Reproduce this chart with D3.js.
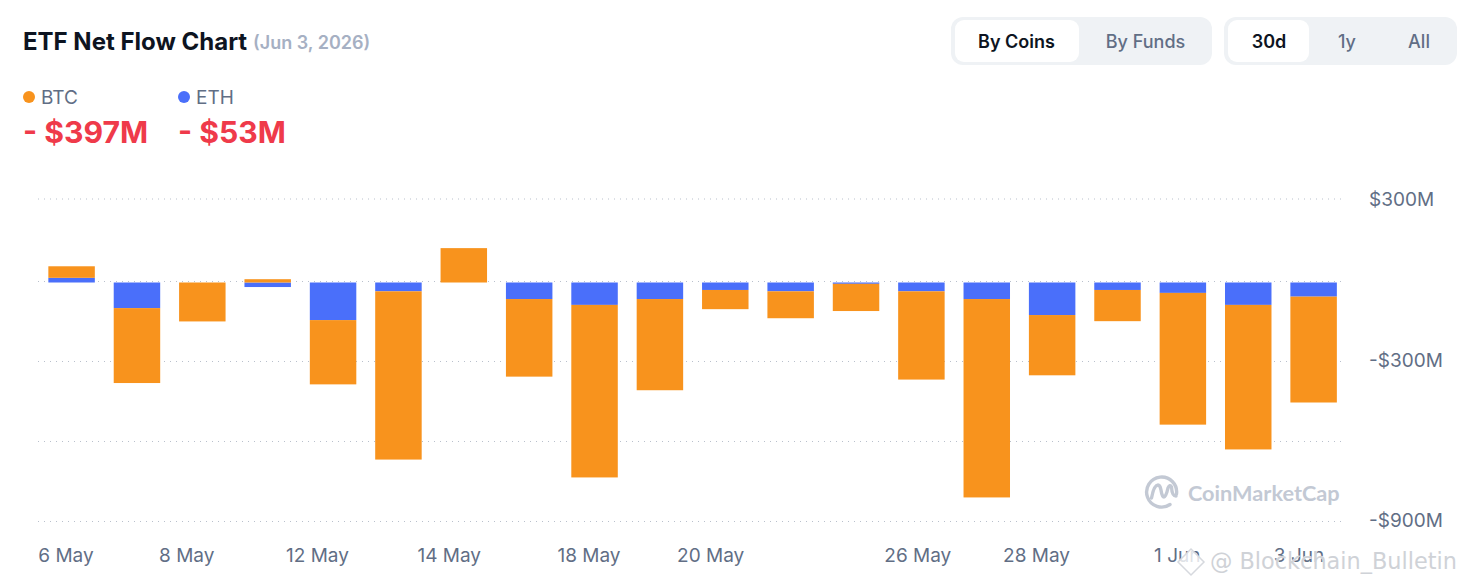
<!DOCTYPE html>
<html><head><meta charset="utf-8">
<script src="https://cdn.jsdelivr.net/npm/d3@7/dist/d3.min.js"></script>
<style>
html,body{margin:0;padding:0;background:#fff;overflow:hidden}
svg{display:block;font-family:Inter,sans-serif}
</style></head><body>
<svg id="c" width="1465" height="585"></svg>
<script>
// ---- data ($M) ----
const dates = ["6 May","7 May","8 May","11 May","12 May","13 May","14 May","15 May","18 May","19 May","20 May","21 May","22 May","26 May","27 May","28 May","29 May","1 Jun","2 Jun","3 Jun"];
const btc = [42,-281,-146,12,-241,-631,125,-291,-647,-342,-72,-101,-102,-331,-744,-226,-117,-494,-542,-397];
const eth = [17,-96,0,-17,-141,-33,0,-62,-84,-62,-28,-33,-5,-33,-62,-122,-28,-39,-84,-53];
const xLabels = ["6 May","8 May","12 May","14 May","18 May","20 May","26 May","28 May","1 Jun","3 Jun"];
const yTicks = [300,0,-300,-600,-900];
const yTickText = ["$300M","","-$300M","","-$900M"];
const seriesNames = ["BTC","ETH"];
const seriesTotals = ["- $397M","- $53M"];

// ---- style ----
const ORANGE="#f8931d", BLUE="#4a6ffa", RED="#ef3a4a", INK="#0d1421", SLATE="#616e85", GRID="#b9c0cc";
const svg=d3.select("#c");
const x=d3.scaleBand().domain(dates).range([38.9,1346.3]).paddingInner(0.289).paddingOuter(0.1445);
const y=d3.scaleLinear().domain([300,0,-300,-600,-900]).range([200,282.5,362.5,442.5,522.5]);

// header
svg.append("text").attr("x",23).attr("y",50).attr("font-size",24).attr("font-weight",700).attr("fill",INK).text("ETF Net Flow Chart");
svg.append("text").attr("x",253).attr("y",49).attr("font-size",18).attr("font-weight",600).attr("fill","#a6b0c3").text("(Jun 3, 2026)");

// toggle groups
function toggle(gx,gw,items){
  svg.append("rect").attr("x",gx).attr("y",17).attr("width",gw).attr("height",48).attr("rx",12).attr("fill","#eff2f5");
  items.forEach(it=>{
    if(it.active) svg.append("rect").attr("x",it.x).attr("y",20).attr("width",it.w).attr("height",42).attr("rx",9).attr("fill","#fff");
    svg.append("text").attr("x",it.cx).attr("y",47.6).attr("text-anchor","middle").attr("font-size",18)
      .attr("font-weight",it.active?600:500).attr("fill",it.active?INK:SLATE).text(it.t);
  });
}
toggle(951,261,[{t:"By Coins",x:955,w:124,cx:1016.5,active:true},{t:"By Funds",cx:1145.5}]);
toggle(1224,233,[{t:"30d",x:1228,w:81,cx:1269,active:true},{t:"1y",cx:1347},{t:"All",cx:1419}]);

// legend
const lx=[23,178], colors=[ORANGE,BLUE];
seriesNames.forEach((n,i)=>{
  svg.append("circle").attr("cx",lx[i]+6).attr("cy",97).attr("r",6).attr("fill",colors[i]);
  svg.append("text").attr("x",lx[i]+18).attr("y",103.6).attr("font-size",19).attr("fill",SLATE).text(n);
  svg.append("text").attr("x",lx[i]).attr("y",143.3).attr("font-size",30.2).attr("font-weight",700).attr("fill",RED).text(seriesTotals[i]);
});

// grid
svg.append("g").attr("transform","translate(0,-1)").selectAll("line").data(yTicks).join("line")
  .attr("x1",38).attr("x2",1342).attr("y1",d=>y(d)).attr("y2",d=>y(d))
  .attr("stroke",GRID).attr("stroke-width",1).attr("stroke-dasharray","1 5");

// stacked bars
const stackRows=dates.map((d,i)=>({date:d,ETH:eth[i],BTC:btc[i]}));
const stacked=d3.stack().keys(["ETH","BTC"]).offset(d3.stackOffsetDiverging)(stackRows);
svg.append("g").selectAll("g").data(stacked).join("g").attr("fill",s=>s.key==="BTC"?ORANGE:BLUE)
  .selectAll("rect").data(s=>s).join("rect")
  .attr("x",d=>x(d.data.date)).attr("width",x.bandwidth())
  .attr("y",d=>Math.min(y(d[0]),y(d[1]))).attr("height",d=>Math.abs(y(d[0])-y(d[1])));

// y axis
const yAxis=d3.axisRight(y).tickValues(yTicks).tickSize(0).tickPadding(0).tickFormat((d,i)=>yTickText[i]);
const gy=svg.append("g").attr("transform","translate(1369,-2.3)").call(yAxis);
gy.select(".domain").remove();
gy.selectAll("text").attr("font-size",19).attr("font-family","Inter,sans-serif").attr("fill",SLATE)
  .attr("y",d=>d===300?1.6:0);

// x axis: the labels are nudged off their bars as in the source chart
const nudge=[-5.6,-15.6,-15.6,-14.6,-5.6,-14.6,-3.6,-15.6,-5.6,-14.6];
const xAxis=d3.axisBottom(x).tickValues(xLabels).tickSize(0).tickPadding(0);
const gx=svg.append("g").attr("transform","translate(0,548)").call(xAxis);
gx.select(".domain").remove();
gx.selectAll("text").attr("font-size",19).attr("font-family","Inter,sans-serif").attr("fill",SLATE)
  .attr("dx",(d,i)=>nudge[i]);

// CoinMarketCap mark
const wm=svg.append("g").attr("fill","none").attr("stroke","#c3c9d4").attr("stroke-width",3.4).attr("stroke-linecap","round").attr("stroke-linejoin","round");
wm.append("path").attr("d","M1176.5 494 A15 15 0 1 0 1170 504.5");
wm.append("path").attr("d","M1151.5 498 Q1154 485 1158 485 Q1160 485 1161 490 Q1162 497 1164 497 Q1166 497 1168 488 Q1170 484 1171.5 487 Q1172 496 1176 496");
svg.append("text").attr("x",1188).attr("y",501).attr("font-size",21.7).attr("font-weight",700).attr("font-family","Lato,sans-serif").attr("fill","#c3c9d4").text("CoinMarketCap");

// third party watermark
const halo=svg.append("g");
halo.append("path").attr("d","M1191 549 L1204 562 L1191 575 L1178 562 Z").attr("fill","rgba(255,255,255,.8)").attr("stroke","#d6d9de").attr("stroke-width",1.5);
halo.append("text").attr("x",1210).attr("y",569).attr("font-size",22.4).attr("font-family","'DejaVu Sans',sans-serif")
  .attr("fill","#cfd2d7").attr("stroke","#fff").attr("stroke-width",.6).attr("paint-order","stroke").text("@ Blockchain_Bulletin");
</script></body></html>
